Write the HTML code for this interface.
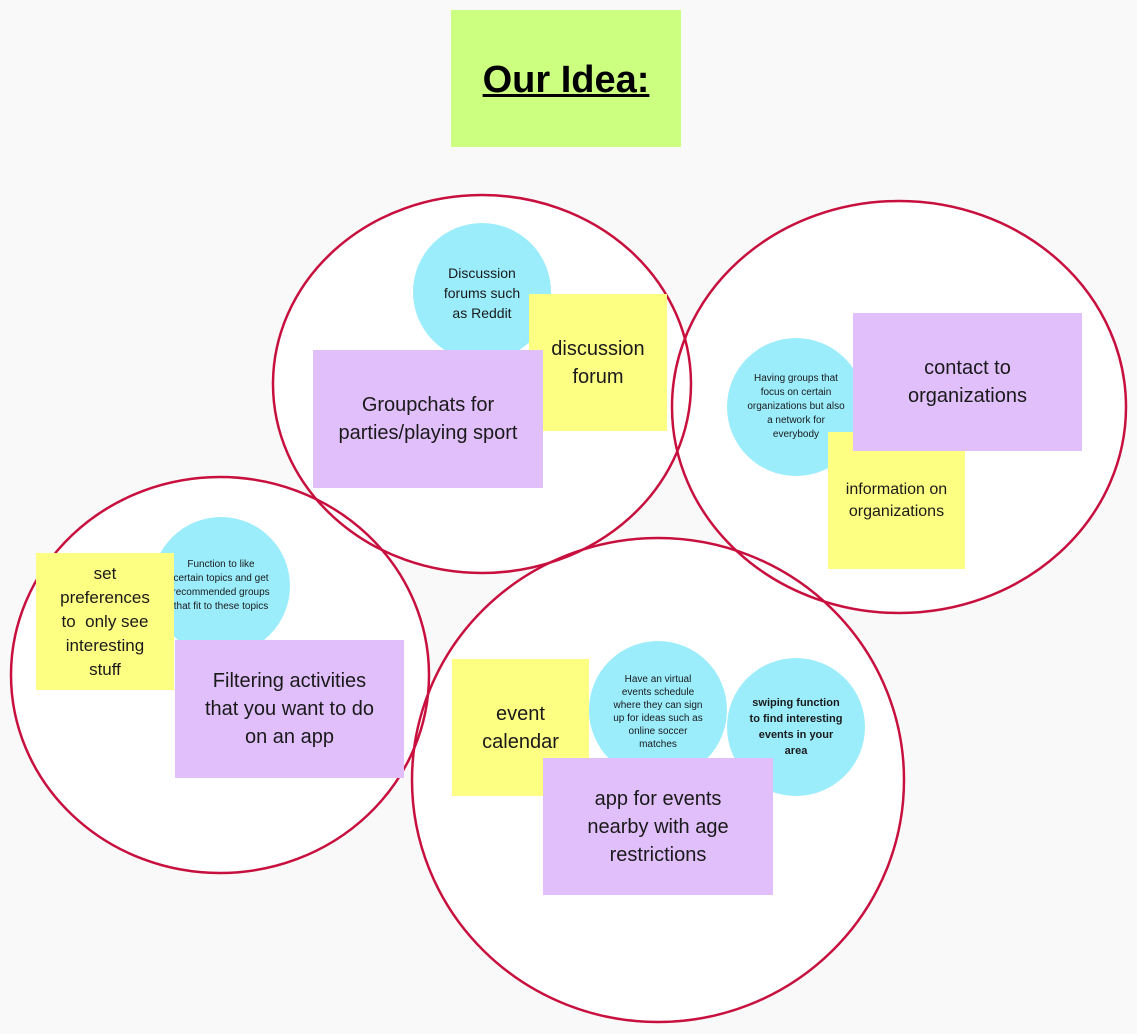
<!DOCTYPE html>
<html><head><meta charset="utf-8"><style>
body{margin:0;width:1137px;height:1034px;background:#f9f9f9;position:relative;overflow:hidden;font-family:"Liberation Sans",sans-serif;color:#1a1a1a}
.n{position:absolute;display:flex;align-items:center;justify-content:center;text-align:center;box-sizing:border-box}
.y{background:#fdff83}.p{background:#e0bffb}.b{background:#9bedfc;border-radius:50%;width:138px;height:138px}
</style></head><body>
<svg width="1137" height="1034" style="position:absolute;left:0;top:0">
<g fill="#fff">
<ellipse cx="482" cy="384" rx="209" ry="189"/>
<ellipse cx="899" cy="407" rx="227" ry="206"/>
<ellipse cx="220" cy="675" rx="209" ry="198"/>
<ellipse cx="658" cy="780" rx="246" ry="242"/>
</g>
<g fill="none" stroke="#c8103e" stroke-width="2.5">
<ellipse cx="482" cy="384" rx="209" ry="189"/>
<ellipse cx="899" cy="407" rx="227" ry="206"/>
<ellipse cx="220" cy="675" rx="209" ry="198"/>
<ellipse cx="658" cy="780" rx="246" ry="242"/>
</g>
</svg>
<div class="n" style="left:451px;top:10px;width:230px;height:137px;background:#ccff80;font-size:38px;font-weight:bold;text-decoration:underline;color:#000;padding-top:4px">Our Idea:</div>

<div class="n b" style="left:413px;top:223px;font-size:14px;padding:0 22px;line-height:20px;align-items:flex-start;padding-top:40px">Discussion forums such as Reddit</div>
<div class="n y" style="left:529px;top:294px;width:138px;height:137px;font-size:20px;line-height:28px;padding:0 12px">discussion forum</div>
<div class="n p" style="left:313px;top:350px;width:230px;height:138px;font-size:20px;line-height:28px;padding:0 10px">Groupchats for parties/playing sport</div>

<div class="n b" style="left:727px;top:338px;font-size:10px;line-height:14px;padding:0 20px">Having groups that focus on certain organizations but also a network for everybody</div>
<div class="n y" style="left:828px;top:432px;width:137px;height:137px;font-size:16px;line-height:22px;padding:0 8px">information on organizations</div>
<div class="n p" style="left:853px;top:313px;width:229px;height:138px;font-size:20px;line-height:28px;padding:0 40px">contact to organizations</div>

<div class="n b" style="left:152px;top:517px;font-size:10px;line-height:14px;padding:0 20px">Function to like certain topics and get recommended groups that fit to these topics</div>
<div class="n y" style="left:36px;top:553px;width:138px;height:137px;font-size:17px;line-height:24px;padding:0 16px">set preferences to&nbsp; only see interesting stuff</div>
<div class="n p" style="left:175px;top:640px;width:229px;height:138px;font-size:20px;line-height:28px;padding:0 10px">Filtering activities<br>that you want to do<br>on an app</div>

<div class="n y" style="left:452px;top:659px;width:137px;height:137px;font-size:20px;line-height:28px;padding:0 20px">event calendar</div>
<div class="n b" style="left:589px;top:641px;font-size:10px;line-height:13px;padding:0 20px;align-items:flex-start;padding-top:32px">Have an virtual events schedule where they can sign up for ideas such as online soccer matches</div>
<div class="n b" style="left:727px;top:658px;font-size:11px;font-weight:bold;line-height:16px;padding:0 22px">swiping function to find interesting events in your area</div>
<div class="n p" style="left:543px;top:758px;width:230px;height:137px;font-size:20px;line-height:28px;padding:0 30px">app for events nearby with age restrictions</div>
</body></html>
